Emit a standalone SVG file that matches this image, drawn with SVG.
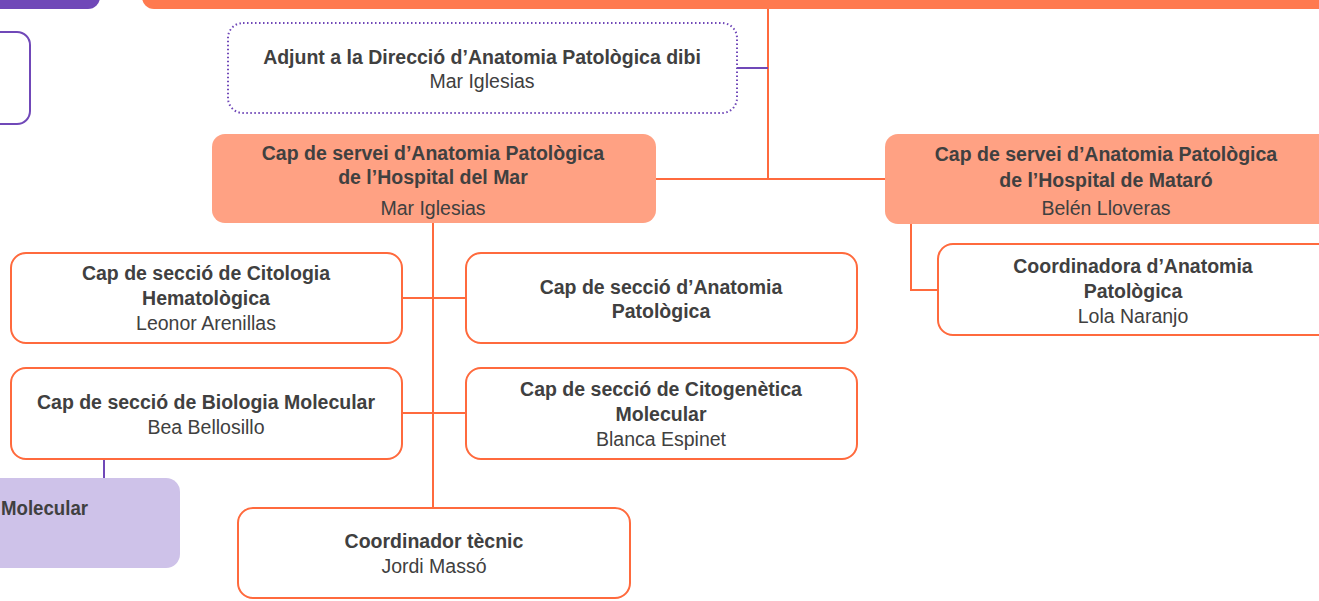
<svg xmlns="http://www.w3.org/2000/svg" width="1319" height="601" viewBox="0 0 1319 601">
<style>
text{font-family:"Liberation Sans",Arial,sans-serif;font-size:19.5px;fill:#404040;text-anchor:middle}
.b{font-weight:bold}
.wo{fill:#fff;stroke:#FF6A3D;stroke-width:2}
.sal{fill:#FFA183}
.co{fill:none;stroke:#FF6A3D;stroke-width:2}
.cp{fill:none;stroke:#7048B8;stroke-width:2}
</style>
<rect width="1319" height="601" fill="#fff"/>
<g id="connectors">
<path class="co" d="M768 9V179M656 179H885"/>
<path class="cp" d="M737 68H768"/>
<path class="co" d="M433 223V508M402 298H466M402 413H466"/>
<path class="co" d="M911 224V290H938"/>
<path class="cp" d="M104 459V478"/>
</g>
<g id="top-purple"><path d="M-20 -20H100V-3a12 12 0 0 1-12 12H-20Z" fill="#7048B8"/></g>
<g id="top-orange"><path d="M142 -20H1340V9H154a12 12 0 0 1-12-12Z" fill="#FF7A4F"/></g>
<g id="left-purple-box"><rect x="-30" y="32" width="60" height="92" rx="13" fill="#fff" stroke="#7048B8" stroke-width="2"/></g>
<g id="adjunt">
<rect x="228" y="23" width="509" height="90" rx="15" fill="#fff" stroke="#7048B8" stroke-width="2" stroke-dasharray="1.5 2.5"/>
<text class="b" x="482" y="64">Adjunt a la Direcció d’Anatomia Patològica dibi</text>
<text x="482" y="88">Mar Iglesias</text>
</g>
<g id="cap-mar">
<rect class="sal" x="212" y="134" width="444" height="89" rx="13"/>
<text class="b" x="433" y="160">Cap de servei d’Anatomia Patològica</text>
<text class="b" x="433" y="184">de l’Hospital del Mar</text>
<text x="433" y="215">Mar Iglesias</text>
</g>
<g id="cap-mataro">
<rect class="sal" x="885" y="134" width="450" height="90" rx="13"/>
<text class="b" x="1106" y="161">Cap de servei d’Anatomia Patològica</text>
<text class="b" x="1106" y="187">de l’Hospital de Mataró</text>
<text x="1106" y="215">Belén Lloveras</text>
</g>
<g id="citologia">
<rect class="wo" x="11" y="253" width="391" height="90" rx="15"/>
<text class="b" x="206" y="280">Cap de secció de Citologia</text>
<text class="b" x="206" y="305">Hematològica</text>
<text x="206" y="330">Leonor Arenillas</text>
</g>
<g id="anatomia">
<rect class="wo" x="466" y="253" width="391" height="90" rx="15"/>
<text class="b" x="661" y="294">Cap de secció d’Anatomia</text>
<text class="b" x="661" y="318">Patològica</text>
</g>
<g id="biologia">
<rect class="wo" x="11" y="368" width="391" height="91" rx="15"/>
<text class="b" x="206" y="409">Cap de secció de Biologia Molecular</text>
<text x="206" y="434">Bea Bellosillo</text>
</g>
<g id="citogenetica">
<rect class="wo" x="466" y="368" width="391" height="91" rx="15"/>
<text class="b" x="661" y="396">Cap de secció de Citogenètica</text>
<text class="b" x="661" y="421">Molecular</text>
<text x="661" y="446">Blanca Espinet</text>
</g>
<g id="coordinador">
<rect class="wo" x="238" y="508" width="392" height="90" rx="15"/>
<text class="b" x="434" y="548">Coordinador tècnic</text>
<text x="434" y="573">Jordi Massó</text>
</g>
<g id="coordinadora">
<rect class="wo" x="938" y="244" width="400" height="91" rx="15"/>
<text class="b" x="1133" y="273">Coordinadora d’Anatomia</text>
<text class="b" x="1133" y="298">Patològica</text>
<text x="1133" y="323">Lola Naranjo</text>
</g>
<g id="molecular-purple">
<rect x="-40" y="478" width="220" height="90" rx="14" fill="#CEC2E9"/>
<text class="b" x="1" y="515" style="text-anchor:start" textLength="87" lengthAdjust="spacingAndGlyphs">Molecular</text>
</g>
</svg>
